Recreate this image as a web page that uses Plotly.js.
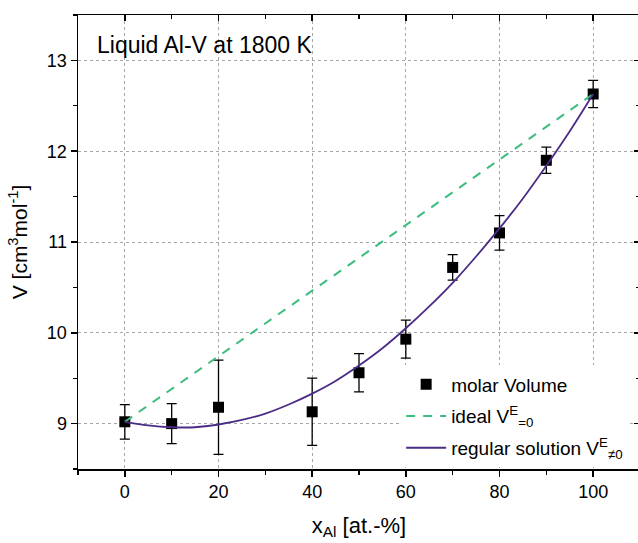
<!DOCTYPE html>
<html>
<head>
<meta charset="utf-8">
<script src="https://cdn.plot.ly/plotly-3.0.1.min.js"></script>
<style>
html,body{margin:0;padding:0;overflow:hidden;background:#fff;}
#chart{width:642px;height:543px;}
</style>
</head>
<body>
<div id="chart"></div>
<script>
// Measured molar volume of liquid Al-V at 1800 K
const xAl = [0, 10, 20, 40, 50, 60, 70, 80, 90, 100];
const volume = [9.02, 9.00, 9.18, 9.13, 9.56, 9.93, 10.72, 11.10, 11.90, 12.63];
const volumeErr = [0.19, 0.22, 0.52, 0.37, 0.21, 0.21, 0.14, 0.19, 0.145, 0.15];

// Ideal (V^E = 0) line
const idealX = [0, 100];
const idealV = [9.02, 12.63];

// Regular solution curve
const regX = [0, 5, 10, 15, 20, 25, 30, 35, 40, 45, 50, 55, 60, 65, 70, 75, 80, 85, 90, 95, 100];
const regV = [9.02, 8.98, 8.96, 8.96, 8.99, 9.04, 9.11, 9.21, 9.33, 9.47, 9.64, 9.83, 10.05, 10.29, 10.55, 10.84, 11.15, 11.48, 11.84, 12.22, 12.63];

const xTicks = [0, 20, 40, 60, 80, 100];
const yTicks = [9, 10, 11, 12, 13];

const font = 'Liberation Sans, Arial, sans-serif';

const traces = [
  {
    x: xAl, y: volume, type: 'scatter', mode: 'markers',
    name: 'molar Volume', legendgroup: 'a',
    marker: {symbol: 'square', size: 11, color: '#000'},
    error_y: {type: 'data', array: volumeErr, visible: true, color: '#000', thickness: 1.3, width: 5}
  },
  {
    x: idealX, y: idealV, type: 'scatter', mode: 'lines',
    name: 'ideal V<sup>E</sup><sub>=0</sub>', legendgroup: 'b',
    line: {color: '#3dbd80', width: 2, dash: '9px,8px'}
  },
  {
    x: regX, y: regV, type: 'scatter', mode: 'lines',
    name: 'regular solution V<sup>E</sup><sub>≠0</sub>', legendgroup: 'c',
    line: {color: '#4a2c87', width: 1.8, shape: 'spline'}
  },
  {
    x: [null], y: [null], xaxis: 'x2', yaxis: 'y2', type: 'scatter', mode: 'markers',
    showlegend: false, hoverinfo: 'skip'
  }
];

const layout = {
  width: 642, height: 543,
  margin: {l: 78, r: 2, t: 15, b: 74},
  paper_bgcolor: '#fff', plot_bgcolor: '#fff',
  font: {family: font, color: '#000', size: 18},
  showlegend: true,
  legend: {
    x: 0.575, y: 0.228, xanchor: 'left', yanchor: 'top',
    bgcolor: '#fff', borderwidth: 0, tracegroupgap: 4,
    font: {family: font, size: 19, color: '#000'},
    itemwidth: 40
  },
  xaxis: {
    range: [-10, 110], tickvals: xTicks, ticktext: xTicks.map(String),
    ticks: 'outside', ticklen: 6, tickwidth: 1.5, tickcolor: '#000',
    showline: true, linecolor: '#000', linewidth: 1.5,
    showgrid: true, gridcolor: '#a6a6a6', gridwidth: 1, griddash: '3px,3px',
    zeroline: false,
    minor: {dtick: 10, tick0: 0, ticks: 'outside', ticklen: 4, tickwidth: 1.2, tickcolor: '#000', showgrid: false},
    tickfont: {size: 18},
    title: {text: 'x<sub>Al</sub> [at.-%]', font: {size: 22}, standoff: 16}
  },
  yaxis: {
    range: [8.5, 13.5], tickvals: yTicks, ticktext: yTicks.map(String),
    ticks: 'outside', ticklen: 6, tickwidth: 1.5, tickcolor: '#000',
    showline: true, linecolor: '#000', linewidth: 1.5,
    showgrid: true, gridcolor: '#a6a6a6', gridwidth: 1, griddash: 'dot',
    zeroline: false,
    minor: {dtick: 0.5, tick0: 8.5, ticks: 'outside', ticklen: 4, tickwidth: 1.2, tickcolor: '#000', showgrid: false},
    tickfont: {size: 18},
    title: {text: 'V [cm<sup>3</sup>mol<sup>-1</sup>]', font: {size: 21}, standoff: 13}
  },
  xaxis2: {
    overlaying: 'x', side: 'top', anchor: 'y2', matches: 'x', range: [-10, 110],
    tickvals: xTicks, showticklabels: false,
    ticks: 'inside', ticklen: 6, tickwidth: 1.5, tickcolor: '#000',
    showline: true, linecolor: '#000', linewidth: 1.5,
    showgrid: false, zeroline: false,
    minor: {dtick: 10, tick0: 0, ticks: 'inside', ticklen: 4, tickwidth: 1.2, tickcolor: '#000', showgrid: false}
  },
  yaxis2: {
    overlaying: 'y', side: 'right', anchor: 'x2', matches: 'y', range: [8.5, 13.5],
    tickvals: yTicks, showticklabels: false,
    ticks: 'inside', ticklen: 6, tickwidth: 1.5, tickcolor: '#000',
    showline: true, linecolor: '#000', linewidth: 1.5,
    showgrid: false, zeroline: false,
    minor: {dtick: 0.5, tick0: 8.5, ticks: 'inside', ticklen: 4, tickwidth: 1.2, tickcolor: '#000', showgrid: false}
  },
  annotations: [{
    text: 'Liquid Al-V at 1800 K', xref: 'paper', yref: 'paper',
    x: 0.03, y: 0.934, xanchor: 'left', yanchor: 'middle', showarrow: false,
    font: {family: font, size: 23, color: '#000'}
  }]
};

Plotly.newPlot('chart', traces, layout, {displayModeBar: false, staticPlot: true});
</script>
</body>
</html>
